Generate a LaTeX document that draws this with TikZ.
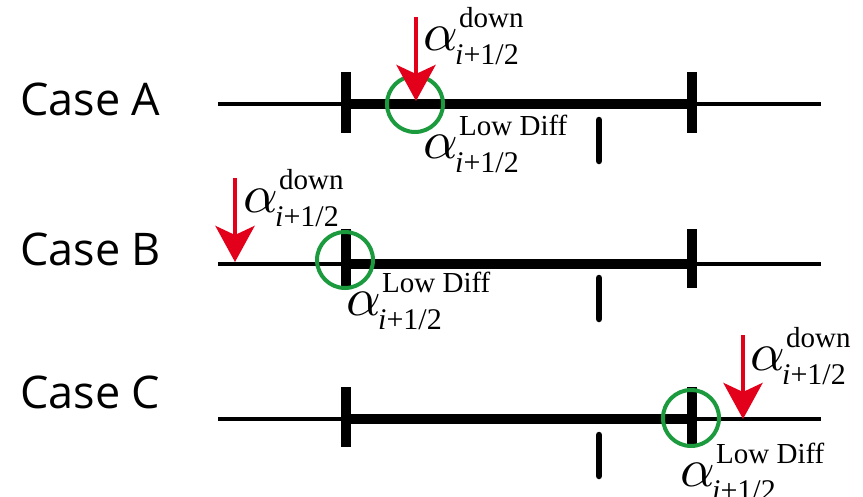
\documentclass[tikz,border=0pt]{standalone}
\usepackage{fontspec}
\setmainfont{Liberation Serif}
\newfontfamily\casefont{Open Sans}
\usetikzlibrary{arrows.meta}
\definecolor{arrred}{HTML}{E2001A}
\definecolor{circgreen}{HTML}{1B9A3E}
\newcommand\alab[1]{\makebox[32pt][l]{\scalebox{5.4}{$\alpha$}}\rlap{\kern4pt\raisebox{23pt}{\fontsize{29}{29}\selectfont #1}}\raisebox{-14pt}{\fontsize{30}{30}\selectfont\textit{i}+1/2}}
\begin{document}
\begin{tikzpicture}[x=1pt,y=-1pt,
  thinline/.style={line width=3.5pt},
  thickline/.style={line width=10pt},
  bigtick/.style={line width=10pt},
  smalltick/.style={line width=6.5pt,line cap=round},
  mark circle/.style={circgreen,line width=4pt},
  downarrow/.style={arrred,line width=4.5pt,-{Stealth[length=36pt,width=39pt,inset=9pt]}},
  casetext/.style={anchor=base west,inner sep=0pt,font=\casefont\fontsize{45}{45}\selectfont},
  alphatext/.style={anchor=base west,inner sep=0pt}]
\useasboundingbox (0,0) rectangle (863,496);
% ---- Case A
\node[casetext] (caseA) at (20,115) {Case A};
\draw[thinline] (218,104) -- (821,104);
\draw[thickline] (346,104) -- (692,104);
\draw[bigtick] (346,72) -- (346,133);
\draw[bigtick] (692,72) -- (692,133);
\draw[smalltick] (599,120) -- (599,161);
\draw[mark circle] (415,104) circle (28);
\coordinate (aTop) at (416,17);
\coordinate (aTip) at (416,101);
\draw[downarrow] (aTop) -- (aTip);
\node[alphatext] (aDown) at (423,50) {\alab{down}};
\node[alphatext] (aLow) at (423,158) {\alab{Low Diff}};
% ---- Case B
\node[casetext] (caseB) at (20,265) {Case B};
\draw[thinline] (218,264) -- (821,264);
\draw[thickline] (346,264) -- (692,264);
\draw[bigtick] (346,229) -- (346,288);
\draw[bigtick] (692,229) -- (692,288);
\draw[smalltick] (599,278) -- (599,319);
\draw[mark circle] (345,260) circle (28);
\coordinate (bTop) at (235,178);
\coordinate (bTip) at (235,262);
\draw[downarrow] (bTop) -- (bTip);
\node[alphatext] (bDown) at (243,212) {\alab{down}};
\node[alphatext] (bLow) at (346,315) {\alab{Low Diff}};
% ---- Case C
\node[casetext] (caseC) at (20,408) {Case C};
\draw[thinline] (218,419) -- (821,419);
\draw[thickline] (346,419) -- (692,419);
\draw[bigtick] (346,387) -- (346,447);
\draw[bigtick] (692,387) -- (692,447);
\draw[smalltick] (599,435) -- (599,476);
\draw[mark circle] (691,418) circle (28);
\coordinate (cTop) at (743,335);
\coordinate (cTip) at (743,419);
\draw[downarrow] (cTop) -- (cTip);
\node[alphatext] (cDown) at (750,370) {\alab{down}};
\node[alphatext] (cLow) at (680,486) {\alab{Low Diff}};
\end{tikzpicture}
\end{document}
